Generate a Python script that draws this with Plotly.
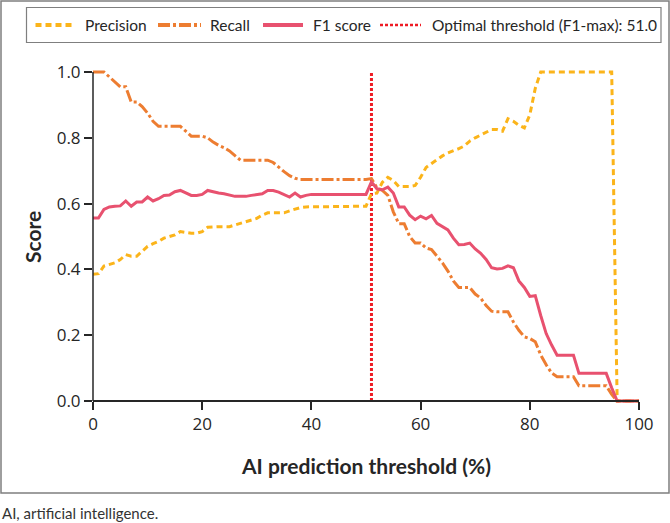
import plotly.graph_objects as go

# ---------------- data ----------------
thresholds = list(range(0, 101))

precision = [
    0.385, 0.387, 0.41, 0.415, 0.42, 0.43, 0.445, 0.44, 0.44, 0.455,
    0.47, 0.478, 0.485, 0.495, 0.50, 0.505, 0.515, 0.512, 0.51, 0.51,
    0.515, 0.528, 0.53, 0.53, 0.53, 0.53, 0.535, 0.54, 0.545, 0.548,
    0.555, 0.565, 0.572, 0.572, 0.572, 0.572, 0.578, 0.583, 0.588, 0.59,
    0.59, 0.59, 0.59, 0.59, 0.59, 0.59, 0.59, 0.59, 0.59, 0.59,
    0.592, 0.63, 0.632, 0.665, 0.68, 0.67, 0.652, 0.652, 0.652, 0.655,
    0.68, 0.71, 0.722, 0.735, 0.745, 0.754, 0.76, 0.767, 0.775, 0.79,
    0.80, 0.808, 0.818, 0.825, 0.825, 0.82, 0.858, 0.85, 0.838, 0.83,
    0.87, 0.95, 1.0, 1.0, 1.0, 1.0, 1.0, 1.0, 1.0, 1.0,
    1.0, 1.0, 1.0, 1.0, 1.0, 1.0, 0.0, 0.0, 0.0, 0.0,
    0.0,
]

recall = [
    1.0, 1.0, 1.0, 0.985, 0.97, 0.955, 0.955, 0.909, 0.909, 0.895,
    0.875, 0.85, 0.835, 0.835, 0.835, 0.835, 0.835, 0.82, 0.805, 0.805,
    0.805, 0.80, 0.787, 0.777, 0.77, 0.76, 0.745, 0.732, 0.732, 0.732,
    0.732, 0.732, 0.732, 0.725, 0.71, 0.697, 0.685, 0.677, 0.673, 0.673,
    0.673, 0.673, 0.673, 0.673, 0.673, 0.673, 0.673, 0.673, 0.673, 0.673,
    0.673, 0.676, 0.648, 0.64, 0.625, 0.575, 0.539, 0.539, 0.50, 0.48,
    0.48, 0.465, 0.46, 0.44, 0.42, 0.395, 0.365, 0.345, 0.345, 0.345,
    0.325, 0.313, 0.29, 0.273, 0.271, 0.271, 0.271, 0.24, 0.215, 0.195,
    0.19, 0.18, 0.14, 0.11, 0.085, 0.074, 0.074, 0.074, 0.074, 0.046,
    0.046, 0.046, 0.046, 0.046, 0.046, 0.02, 0.0, 0.0, 0.0, 0.0,
    0.0,
]

f1_score = [
    0.556, 0.556, 0.582, 0.59, 0.592, 0.593, 0.608, 0.592, 0.605, 0.605,
    0.62, 0.608, 0.615, 0.625, 0.626, 0.636, 0.64, 0.632, 0.625, 0.625,
    0.628, 0.64, 0.635, 0.632, 0.63, 0.626, 0.622, 0.622, 0.622, 0.625,
    0.628, 0.63, 0.64, 0.64, 0.635, 0.628, 0.62, 0.632, 0.62, 0.625,
    0.628, 0.628, 0.628, 0.628, 0.628, 0.628, 0.628, 0.628, 0.628, 0.628,
    0.628, 0.666, 0.645, 0.642, 0.65, 0.632, 0.59, 0.59, 0.565, 0.551,
    0.562, 0.554, 0.564, 0.54, 0.53, 0.52, 0.495, 0.475, 0.476, 0.48,
    0.462, 0.449, 0.43, 0.405, 0.401, 0.403, 0.411, 0.405, 0.365, 0.345,
    0.318, 0.32, 0.26, 0.205, 0.17, 0.139, 0.139, 0.139, 0.139, 0.084,
    0.084, 0.084, 0.084, 0.084, 0.084, 0.04, 0.0, 0.0, 0.0, 0.0,
    0.0,
]

opt_threshold = 51.0
x_ticks = [0, 20, 40, 60, 80, 100]
y_ticks = [0.0, 0.2, 0.4, 0.6, 0.8, 1.0]
y_tick_labels = ["0.0", "0.2", "0.4", "0.6", "0.8", "1.0"]

legend_names = ["Precision", "Recall", "F1 score",
                "Optimal threshold (F1-max): " + f"{opt_threshold:.1f}"]

# ---------------- styles ----------------
C_PREC = "#FBB41A"
C_REC = "#ED7D31"
C_F1 = "#E8516F"
C_OPT = "#EE1C25"
D_PREC = "6px,4px"
D_REC = "12px,3px,3px,3px"
D_OPT = "3px,2px"
TXT = "#262626"
FONT = "Lato, 'Open Sans', sans-serif"
TICKFONT = "'Open Sans', sans-serif"

W, H = 670, 523
ML, MR, MT, MB = 93, 31, 69, 119
PW, PH = W - ML - MR, H - MT - MB
Y0_PX, Y1_PX = 401, 72  # pixel rows of y=0 and y=1
upp = 1.0 / (Y0_PX - Y1_PX)
y_range = [0 - (MT + PH - Y0_PX) * upp, 1.0 + (Y1_PX - MT) * upp]


def px_x(px):
    return (px - ML) / PW


def px_y(py):
    return 1 - (py - MT) / PH


fig = go.Figure()

fig.add_trace(go.Scatter(x=[opt_threshold, opt_threshold], y=[0, 1], mode="lines",
                         line=dict(color=C_OPT, width=3, dash=D_OPT),
                         showlegend=False, hoverinfo="skip"))
fig.add_trace(go.Scatter(x=thresholds, y=precision, mode="lines",
                         line=dict(color=C_PREC, width=3, dash=D_PREC),
                         showlegend=False))
fig.add_trace(go.Scatter(x=thresholds, y=recall, mode="lines",
                         line=dict(color=C_REC, width=3, dash=D_REC),
                         showlegend=False))
fig.add_trace(go.Scatter(x=thresholds, y=f1_score, mode="lines",
                         line=dict(color=C_F1, width=3),
                         showlegend=False))

shapes = []
annotations = []

# outer frame
shapes.append(dict(type="rect", xref="paper", yref="paper",
                   x0=px_x(1), x1=px_x(669), y0=px_y(493), y1=px_y(1),
                   line=dict(color="#7F7F7F", width=1.5), layer="below"))
# legend box
shapes.append(dict(type="rect", xref="paper", yref="paper",
                   x0=px_x(26.5), x1=px_x(661), y0=px_y(42.5), y1=px_y(7.5),
                   line=dict(color="#7F7F7F", width=1.2), layer="below"))
# y axis line
shapes.append(dict(type="line", xref="paper", yref="paper",
                   x0=0, x1=0, y0=px_y(Y0_PX), y1=px_y(Y1_PX),
                   line=dict(color=TXT, width=1.5)))

# legend items
leg_items = [
    (35.5, 74, 83, C_PREC, D_PREC, legend_names[0]),
    (158, 201, 208, C_REC, D_REC, legend_names[1]),
    (263, 303, 311, C_F1, "solid", legend_names[2]),
    (380, 421, 429.5, C_OPT, D_OPT, legend_names[3]),
]
LEG_Y = 25
for s0, s1, tx, col, dash, name in leg_items:
    shapes.append(dict(type="line", xref="paper", yref="paper",
                       x0=px_x(s0), x1=px_x(s1), y0=px_y(LEG_Y), y1=px_y(LEG_Y),
                       line=dict(color=col, width=4 if dash != D_OPT else 2.5, dash=dash)))
    annotations.append(dict(xref="paper", yref="paper", x=px_x(tx), y=px_y(LEG_Y),
                            text=name, showarrow=False, xanchor="left", yanchor="middle",
                            font=dict(family=FONT, size=15.5, color=TXT)))

# axis titles
annotations.append(dict(xref="paper", yref="paper", x=px_x(32), y=px_y(237),
                        text="<b>Score</b>", showarrow=False, textangle=-90,
                        xanchor="center", yanchor="middle",
                        font=dict(family=FONT, size=21, color=TXT)))
annotations.append(dict(xref="paper", yref="paper", x=px_x(366), y=px_y(465),
                        text="<b>AI prediction threshold (%)</b>", showarrow=False,
                        xanchor="center", yanchor="middle",
                        font=dict(family=FONT, size=21, color=TXT)))
# caption
annotations.append(dict(xref="paper", yref="paper", x=px_x(0), y=px_y(513),
                        text="AI, artificial intelligence.", showarrow=False,
                        xanchor="left", yanchor="middle",
                        font=dict(family=FONT, size=15, color="#333333")))

fig.update_layout(
    width=W, height=H,
    margin=dict(l=ML, r=MR, t=MT, b=MB, pad=0),
    paper_bgcolor="white", plot_bgcolor="white",
    showlegend=False,
    shapes=shapes, annotations=annotations,
    xaxis=dict(range=[0, 100], tickvals=x_ticks, ticktext=[str(v) for v in x_ticks],
               showgrid=False, zeroline=False, showline=True, linecolor=TXT, linewidth=1.5,
               anchor="free", position=px_y(Y0_PX),
               ticks="outside", ticklen=8, tickwidth=1.5, tickcolor=TXT,
               tickfont=dict(family=TICKFONT, size=17, color=TXT)),
    yaxis=dict(range=y_range, tickvals=y_ticks, ticktext=y_tick_labels,
               showgrid=False, zeroline=False, showline=False,
               ticks="outside", ticklen=8, tickwidth=1.5, tickcolor=TXT,
               tickfont=dict(family=TICKFONT, size=17, color=TXT)),
)

fig.write_html("out.html")
